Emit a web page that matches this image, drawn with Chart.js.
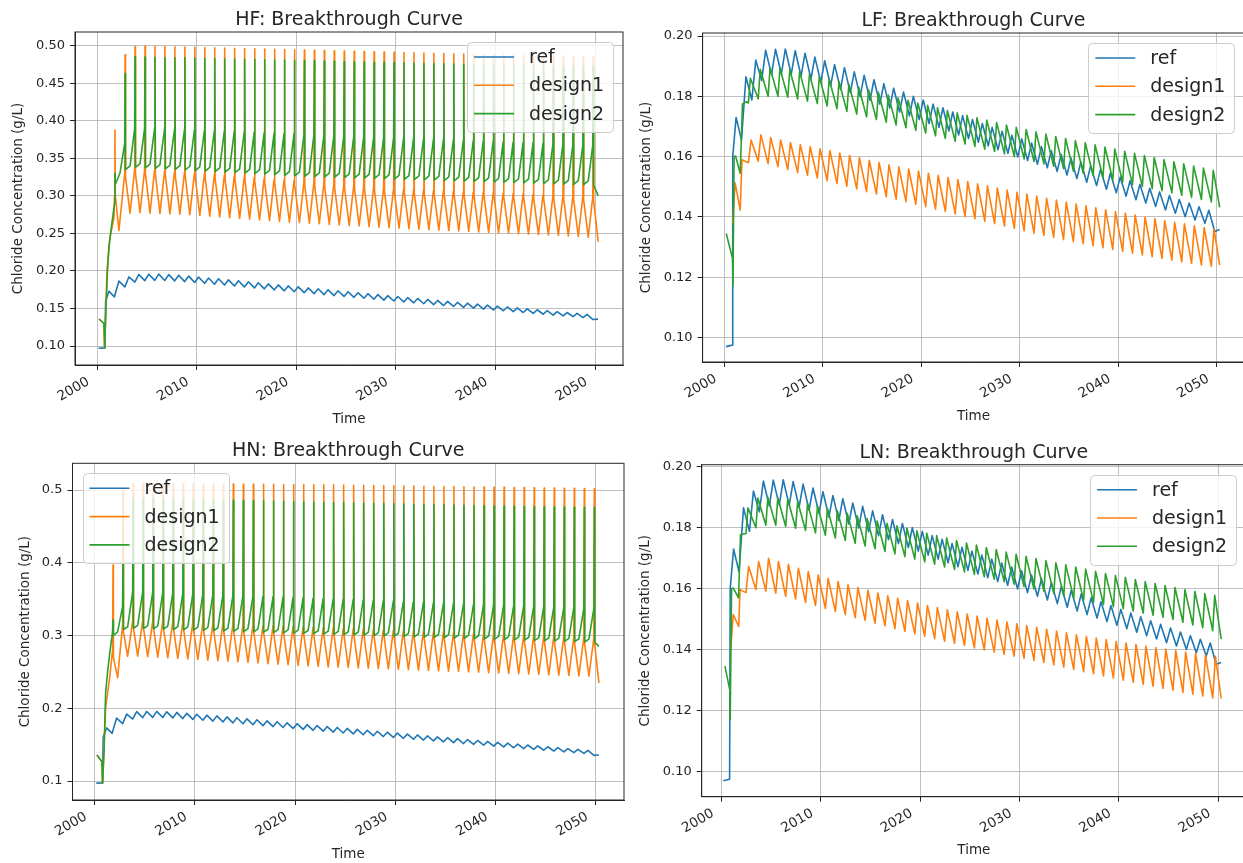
<!DOCTYPE html>
<html><head><meta charset="utf-8">
<script src="https://cdn.jsdelivr.net/npm/chart.js@4.4.0/dist/chart.umd.min.js"></script>
<style>
html,body{margin:0;padding:0;background:#fff;width:1243px;height:863px;overflow:hidden;position:relative;}
canvas{position:absolute;}
</style></head><body>
<canvas id="cHF"></canvas><canvas id="cLF"></canvas><canvas id="cHN"></canvas><canvas id="cLN"></canvas>
<script>
// ---------------- text / ticks ----------------
const seriesNames = ['ref', 'design1', 'design2'];
const seriesColors = ['#1f77b4', '#ff7f0e', '#2ca02c'];
const xTitle = 'Time';
const yTitle = 'Chloride Concentration (g/L)';
const xTicks = [2000, 2010, 2020, 2030, 2040, 2050];
const xTickLabels = ['2000', '2010', '2020', '2030', '2040', '2050'];
const hfYTicks = [0.10, 0.15, 0.20, 0.25, 0.30, 0.35, 0.40, 0.45, 0.50];
const hfYTickLabels = ['0.10', '0.15', '0.20', '0.25', '0.30', '0.35', '0.40', '0.45', '0.50'];
const hnYTicks = [0.1, 0.2, 0.3, 0.4, 0.5];
const hnYTickLabels = ['0.1', '0.2', '0.3', '0.4', '0.5'];
const lowYTicks = [0.10, 0.12, 0.14, 0.16, 0.18, 0.20];
const lowYTickLabels = ['0.10', '0.12', '0.14', '0.16', '0.18', '0.20'];

// ---------------- data ----------------
const cycleYears = [2002,2003,2004,2005,2006,2007,2008,2009,2010,2011,2012,2013,2014,2015,2016,2017,2018,2019,2020,2021,2022,2023,2024,2025,2026,2027,2028,2029,2030,2031,2032,2033,2034,2035,2036,2037,2038,2039,2040,2041,2042,2043,2044,2045,2046,2047,2048,2049];

// ref (same run in all four panels): peaks at year+0.20, troughs at year+0.80
const refPhase = [0.20, 0.80];
const refHead = [[2000.17,0.0970],[2000.80,0.0975],[2000.86,0.1600],[2001.20,0.1730],[2001.75,0.1655]];
const refPeaks = [0.1865,0.1920,0.1953,0.1956,0.1957,0.1951,0.1943,0.1930,0.1918,0.1905,
0.1895,0.1881,0.1870,0.1855,0.1842,0.1827,0.1814,0.1800,0.1788,0.1774,
0.1762,0.1748,0.1736,0.1723,0.1710,0.1697,0.1684,0.1671,0.1659,0.1645,
0.1633,0.1620,0.1607,0.1595,0.1582,0.1570,0.1557,0.1545,0.1532,0.1520,
0.1508,0.1495,0.1483,0.1471,0.1458,0.1446,0.1434,0.1422];
const refTroughs = [0.1788,0.1852,0.1871,0.1874,0.1873,0.1867,0.1858,0.1847,0.1835,0.1823,
0.1812,0.1799,0.1787,0.1774,0.1761,0.1748,0.1735,0.1723,0.1710,0.1697,
0.1685,0.1672,0.1660,0.1648,0.1636,0.1623,0.1611,0.1599,0.1587,0.1575,
0.1563,0.1551,0.1539,0.1527,0.1515,0.1504,0.1492,0.1480,0.1469,0.1457,
0.1446,0.1435,0.1423,0.1412,0.1401,0.1390,0.1379,0.1352];
const refTail = [[2050.30,0.1358]];

// HF: pre-spike, spike, post-spike, mid-cycle level
const hfPhase = [0.78, 0.82, 0.86, 1.32];
const hfD1Head = [[2000.20,0.1360],[2000.70,0.1300],[2000.76,0.0970],[2001.00,0.2000],[2001.30,0.2450],[2001.70,0.2700],[2001.76,0.3000],[2001.80,0.3877],[2001.84,0.3000],[2002.20,0.2540]];
const hfD1Pre = [0.3300,0.3350,0.3350,0.3340,0.3330,0.3320,0.3310,0.3300,0.3290,0.3280,
0.3270,0.3260,0.3250,0.3240,0.3230,0.3220,0.3210,0.3200,0.3190,0.3180,
0.3170,0.3160,0.3150,0.3140,0.3130,0.3120,0.3110,0.3100,0.3090,0.3080,
0.3075,0.3070,0.3065,0.3060,0.3055,0.3050,0.3045,0.3040,0.3035,0.3030,
0.3025,0.3020,0.3015,0.3010,0.3005,0.3000,0.2995,0.2990];
const hfD1Peak = [0.4880,0.4987,0.4992,0.4990,0.4988,0.4985,0.4982,0.4978,0.4975,0.4972,
0.4968,0.4965,0.4962,0.4958,0.4955,0.4952,0.4948,0.4945,0.4942,0.4938,
0.4935,0.4932,0.4928,0.4925,0.4922,0.4918,0.4915,0.4912,0.4908,0.4905,
0.4902,0.4898,0.4895,0.4892,0.4888,0.4885,0.4882,0.4878,0.4875,0.4872,
0.4870,0.4868,0.4866,0.4864,0.4862,0.4860,0.4858,0.4856];
const hfD1Post = [0.3250,0.3300,0.3300,0.3290,0.3280,0.3270,0.3260,0.3250,0.3240,0.3230,
0.3220,0.3210,0.3200,0.3190,0.3180,0.3170,0.3160,0.3150,0.3140,0.3130,
0.3120,0.3110,0.3100,0.3090,0.3080,0.3070,0.3060,0.3050,0.3040,0.3030,
0.3025,0.3020,0.3015,0.3010,0.3005,0.3000,0.2995,0.2990,0.2985,0.2980,
0.2975,0.2970,0.2965,0.2960,0.2955,0.2950,0.2945,0.2940];
const hfD1Trough = [0.2770,0.2775,0.2770,0.2765,0.2760,0.2755,0.2748,0.2740,0.2730,0.2720,
0.2710,0.2700,0.2690,0.2680,0.2670,0.2660,0.2650,0.2642,0.2635,0.2628,
0.2620,0.2612,0.2605,0.2598,0.2590,0.2583,0.2576,0.2569,0.2562,0.2556,
0.2550,0.2544,0.2538,0.2532,0.2526,0.2520,0.2514,0.2508,0.2502,0.2496,
0.2490,0.2484,0.2478,0.2472,0.2466,0.2460,0.2450,0.2390];

const hfD2Head = [[2000.20,0.1360],[2000.70,0.1300],[2000.76,0.0970],[2000.90,0.1500],[2001.05,0.2000],[2001.20,0.2320],[2001.45,0.2590],[2001.76,0.2900],[2001.80,0.3300],[2001.84,0.3150],[2002.30,0.3300]];
const hfD2Pre = [0.3700,0.3900,0.3900,0.3895,0.3890,0.3885,0.3880,0.3875,0.3870,0.3865,
0.3860,0.3855,0.3850,0.3845,0.3840,0.3835,0.3830,0.3825,0.3820,0.3815,
0.3810,0.3805,0.3800,0.3795,0.3790,0.3785,0.3780,0.3775,0.3770,0.3765,
0.3760,0.3755,0.3750,0.3745,0.3740,0.3735,0.3730,0.3725,0.3720,0.3715,
0.3710,0.3705,0.3700,0.3695,0.3690,0.3685,0.3680,0.3675];
const hfD2Peak = [0.4630,0.4853,0.4850,0.4846,0.4843,0.4840,0.4837,0.4834,0.4831,0.4828,
0.4825,0.4822,0.4819,0.4816,0.4813,0.4810,0.4807,0.4804,0.4801,0.4798,
0.4795,0.4792,0.4789,0.4786,0.4783,0.4780,0.4777,0.4774,0.4771,0.4768,
0.4765,0.4762,0.4759,0.4756,0.4753,0.4750,0.4747,0.4744,0.4741,0.4738,
0.4736,0.4734,0.4732,0.4730,0.4728,0.4726,0.4724,0.4722];
const hfD2Post = [0.3350,0.3380,0.3372,0.3365,0.3358,0.3351,0.3344,0.3337,0.3330,0.3323,
0.3316,0.3309,0.3302,0.3295,0.3288,0.3281,0.3274,0.3267,0.3260,0.3256,
0.3252,0.3248,0.3244,0.3240,0.3236,0.3232,0.3228,0.3224,0.3220,0.3216,
0.3212,0.3208,0.3204,0.3200,0.3196,0.3192,0.3188,0.3184,0.3180,0.3176,
0.3172,0.3168,0.3164,0.3160,0.3156,0.3152,0.3148,0.3144];
const hfD2Mid = [0.3400,0.3430,0.3422,0.3415,0.3408,0.3401,0.3394,0.3387,0.3380,0.3373,
0.3366,0.3359,0.3352,0.3345,0.3338,0.3331,0.3324,0.3317,0.3310,0.3306,
0.3302,0.3298,0.3294,0.3290,0.3286,0.3282,0.3278,0.3274,0.3270,0.3266,
0.3262,0.3258,0.3254,0.3250,0.3246,0.3242,0.3238,0.3234,0.3230,0.3226,
0.3222,0.3218,0.3214,0.3210,0.3206,0.3202,0.3198,0.3000];

// HN
const hnPhase = [0.80, 0.84, 0.88, 1.30];
const hnD1Head = [[2000.24,0.1357],[2000.74,0.1265],[2000.80,0.0970],[2001.10,0.2000],[2001.50,0.2416],[2001.80,0.2800],[2001.84,0.3970],[2001.88,0.2700],[2002.30,0.2420]];
const hnD1Pre = [0.3150,0.3200,0.3200,0.3195,0.3190,0.3185,0.3180,0.3175,0.3170,0.3165,
0.3160,0.3155,0.3150,0.3145,0.3140,0.3135,0.3130,0.3125,0.3120,0.3115,
0.3110,0.3105,0.3100,0.3095,0.3090,0.3085,0.3080,0.3075,0.3070,0.3065,
0.3060,0.3055,0.3050,0.3045,0.3040,0.3035,0.3030,0.3025,0.3020,0.3015,
0.3010,0.3005,0.3000,0.2995,0.2990,0.2985,0.2980,0.2975];
const hnD1Peak = [0.5000,0.5090,0.5090,0.5089,0.5088,0.5087,0.5086,0.5085,0.5084,0.5083,
0.5082,0.5081,0.5080,0.5079,0.5078,0.5077,0.5076,0.5075,0.5074,0.5073,
0.5072,0.5070,0.5068,0.5066,0.5064,0.5062,0.5060,0.5058,0.5056,0.5054,
0.5052,0.5050,0.5048,0.5046,0.5044,0.5042,0.5040,0.5038,0.5036,0.5034,
0.5032,0.5030,0.5028,0.5026,0.5024,0.5022,0.5020,0.5018];
const hnD1Post = [0.3050,0.3100,0.3100,0.3095,0.3090,0.3085,0.3080,0.3075,0.3070,0.3065,
0.3060,0.3055,0.3050,0.3045,0.3040,0.3035,0.3030,0.3025,0.3020,0.3015,
0.3010,0.3005,0.3000,0.2995,0.2990,0.2985,0.2980,0.2975,0.2970,0.2965,
0.2960,0.2955,0.2950,0.2945,0.2940,0.2935,0.2930,0.2925,0.2920,0.2915,
0.2910,0.2905,0.2900,0.2895,0.2890,0.2885,0.2880,0.2875];
const hnD1Trough = [0.2715,0.2715,0.2710,0.2702,0.2694,0.2686,0.2678,0.2670,0.2662,0.2654,
0.2646,0.2638,0.2630,0.2622,0.2614,0.2606,0.2598,0.2590,0.2582,0.2575,
0.2570,0.2565,0.2560,0.2555,0.2550,0.2545,0.2540,0.2535,0.2530,0.2525,
0.2520,0.2515,0.2510,0.2505,0.2500,0.2495,0.2490,0.2485,0.2480,0.2475,
0.2470,0.2465,0.2460,0.2455,0.2450,0.2445,0.2440,0.2350];
const hnD2Head = [[2000.24,0.1357],[2000.74,0.1265],[2000.80,0.0970],[2000.95,0.1420],[2001.10,0.2210],[2001.30,0.2500],[2001.55,0.2800],[2001.80,0.3050],[2001.84,0.3213],[2001.88,0.3000],[2002.30,0.3050]];
const hnD2Pre = [0.3400,0.3600,0.3600,0.3595,0.3590,0.3585,0.3580,0.3575,0.3570,0.3565,
0.3560,0.3555,0.3550,0.3545,0.3540,0.3535,0.3530,0.3525,0.3520,0.3515,
0.3510,0.3505,0.3500,0.3495,0.3490,0.3485,0.3480,0.3475,0.3470,0.3465,
0.3460,0.3455,0.3450,0.3445,0.3440,0.3435,0.3430,0.3425,0.3420,0.3415,
0.3410,0.3405,0.3400,0.3395,0.3390,0.3385,0.3380,0.3375];
const hnD2Peak = [0.4000,0.4886,0.4884,0.4882,0.4880,0.4877,0.4874,0.4871,0.4868,0.4865,
0.4862,0.4859,0.4856,0.4853,0.4850,0.4847,0.4844,0.4841,0.4838,0.4835,
0.4832,0.4829,0.4826,0.4823,0.4820,0.4817,0.4814,0.4811,0.4808,0.4805,
0.4802,0.4799,0.4796,0.4793,0.4790,0.4787,0.4784,0.4781,0.4778,0.4775,
0.4772,0.4770,0.4768,0.4766,0.4764,0.4762,0.4760,0.4758];
const hnD2Post = [0.3080,0.3100,0.3096,0.3092,0.3088,0.3083,0.3079,0.3075,0.3071,0.3067,
0.3062,0.3058,0.3054,0.3050,0.3046,0.3041,0.3037,0.3033,0.3029,0.3025,
0.3020,0.3016,0.3012,0.3008,0.3004,0.2999,0.2995,0.2991,0.2987,0.2983,
0.2978,0.2974,0.2970,0.2966,0.2962,0.2957,0.2953,0.2949,0.2945,0.2941,
0.2936,0.2932,0.2928,0.2924,0.2920,0.2915,0.2911,0.2907];
const hnD2Mid = [0.3120,0.3140,0.3136,0.3132,0.3128,0.3123,0.3119,0.3115,0.3111,0.3107,
0.3102,0.3098,0.3094,0.3090,0.3086,0.3081,0.3077,0.3073,0.3069,0.3065,
0.3060,0.3056,0.3052,0.3048,0.3044,0.3039,0.3035,0.3031,0.3027,0.3023,
0.3018,0.3014,0.3010,0.3006,0.3002,0.2997,0.2993,0.2989,0.2985,0.2981,
0.2976,0.2972,0.2968,0.2964,0.2960,0.2955,0.2951,0.2850];

// LF: trough then peak each year
const lowD1Phase = [0.45, 0.72];
const lowD2Phase = [0.45, 0.65];
const lfD1Head = [[2000.86,0.1380],[2001.10,0.1513],[2001.62,0.1423],[2001.80,0.1590]];
const lfD1Troughs = [0.1580,0.1585,0.1577,0.1567,0.1557,0.1547,0.1538,0.1529,0.1520,0.1511,
0.1502,0.1493,0.1484,0.1476,0.1467,0.1459,0.1451,0.1442,0.1434,0.1426,
0.1418,0.1410,0.1402,0.1394,0.1386,0.1378,0.1370,0.1362,0.1354,0.1346,
0.1339,0.1332,0.1325,0.1318,0.1311,0.1305,0.1298,0.1292,0.1286,0.1280,
0.1274,0.1268,0.1262,0.1257,0.1251,0.1246,0.1241,0.1236];
const lfD1Peaks = [0.1655,0.1672,0.1663,0.1655,0.1647,0.1640,0.1633,0.1626,0.1620,0.1612,
0.1604,0.1596,0.1588,0.1580,0.1573,0.1566,0.1559,0.1552,0.1545,0.1538,
0.1531,0.1524,0.1517,0.1510,0.1503,0.1496,0.1489,0.1482,0.1476,0.1469,
0.1462,0.1456,0.1449,0.1443,0.1437,0.1430,0.1424,0.1418,0.1412,0.1406,
0.1400,0.1394,0.1388,0.1382,0.1377,0.1371,0.1365,0.1360];
const lfD1Tail = [[2050.30,0.1240]];
const lfD2Head = [[2000.20,0.1345],[2000.84,0.1262],[2000.88,0.1170],[2001.00,0.1600],[2001.15,0.1602],[2001.62,0.1545],[2001.85,0.1775],[2002.25,0.1782]];
const lfD2Troughs = [0.1778,0.1792,0.1800,0.1800,0.1797,0.1791,0.1784,0.1776,0.1768,0.1759,
0.1750,0.1741,0.1732,0.1723,0.1714,0.1705,0.1696,0.1687,0.1678,0.1669,
0.1660,0.1651,0.1642,0.1634,0.1625,0.1617,0.1609,0.1600,0.1592,0.1584,
0.1576,0.1568,0.1560,0.1552,0.1545,0.1537,0.1530,0.1522,0.1515,0.1508,
0.1501,0.1494,0.1487,0.1480,0.1472,0.1465,0.1458,0.1450];
const lfD2Peaks = [0.1860,0.1890,0.1895,0.1893,0.1888,0.1881,0.1873,0.1865,0.1857,0.1849,
0.1840,0.1831,0.1822,0.1813,0.1804,0.1795,0.1787,0.1778,0.1770,0.1762,
0.1753,0.1745,0.1737,0.1729,0.1721,0.1713,0.1705,0.1697,0.1690,0.1682,
0.1675,0.1667,0.1660,0.1653,0.1646,0.1639,0.1632,0.1625,0.1618,0.1611,
0.1604,0.1597,0.1590,0.1583,0.1576,0.1569,0.1562,0.1555];
const lfD2Tail = [[2050.30,0.1432]];

// LN
const lnD1Head = [[2000.90,0.1400],[2001.17,0.1515],[2001.72,0.1476],[2001.85,0.1597]];
const lnD1Troughs = [0.1587,0.1597,0.1592,0.1585,0.1575,0.1566,0.1555,0.1545,0.1535,0.1525,
0.1515,0.1505,0.1496,0.1487,0.1478,0.1469,0.1460,0.1452,0.1444,0.1436,
0.1428,0.1421,0.1414,0.1406,0.1399,0.1392,0.1385,0.1379,0.1372,0.1365,
0.1358,0.1350,0.1343,0.1335,0.1328,0.1321,0.1314,0.1307,0.1300,0.1293,
0.1286,0.1280,0.1273,0.1267,0.1260,0.1254,0.1248,0.1242];
const lnD1Peaks = [0.1673,0.1689,0.1700,0.1689,0.1680,0.1667,0.1656,0.1645,0.1634,0.1623,
0.1613,0.1604,0.1595,0.1586,0.1577,0.1569,0.1561,0.1553,0.1545,0.1538,
0.1531,0.1524,0.1517,0.1510,0.1503,0.1497,0.1491,0.1485,0.1479,0.1473,
0.1467,0.1461,0.1455,0.1449,0.1444,0.1438,0.1433,0.1427,0.1422,0.1417,
0.1412,0.1407,0.1402,0.1397,0.1392,0.1387,0.1382,0.1378];
const lnD1Tail = [[2050.30,0.1240]];
const lnD2Head = [[2000.33,0.1346],[2000.84,0.1264],[2000.86,0.1170],[2001.00,0.1600],[2001.17,0.1602],[2001.70,0.1570],[2001.90,0.1777],[2002.25,0.1780]];
const lnD2Troughs = [0.1780,0.1800,0.1808,0.1808,0.1804,0.1798,0.1791,0.1783,0.1775,0.1766,
0.1758,0.1749,0.1740,0.1731,0.1722,0.1714,0.1705,0.1697,0.1688,0.1680,
0.1671,0.1663,0.1655,0.1647,0.1639,0.1631,0.1623,0.1615,0.1607,0.1599,
0.1592,0.1584,0.1577,0.1569,0.1562,0.1555,0.1548,0.1541,0.1534,0.1527,
0.1520,0.1513,0.1506,0.1499,0.1490,0.1481,0.1472,0.1462];
const lnD2Peaks = [0.1865,0.1897,0.1900,0.1898,0.1893,0.1886,0.1879,0.1871,0.1863,0.1855,
0.1847,0.1839,0.1830,0.1822,0.1814,0.1806,0.1798,0.1790,0.1782,0.1774,
0.1766,0.1758,0.1750,0.1743,0.1735,0.1728,0.1720,0.1713,0.1706,0.1699,
0.1692,0.1685,0.1678,0.1671,0.1664,0.1657,0.1650,0.1643,0.1637,0.1630,
0.1623,0.1617,0.1610,0.1604,0.1597,0.1591,0.1584,0.1578];
const lnD2Tail = [[2050.30,0.1435]];

// ---------------- build point tables ----------------
function buildSeries(head, years, phases, cols, tail) {
  const pts = head.map(p => ({x: p[0], y: p[1]}));
  years.forEach((yr, i) => {
    phases.forEach((ph, j) => { pts.push({x: yr + ph, y: cols[j][i]}); });
  });
  (tail || []).forEach(p => pts.push({x: p[0], y: p[1]}));
  return pts;
}
const refData = buildSeries(refHead, cycleYears, refPhase, [refPeaks, refTroughs], refTail);
const hfD1 = buildSeries(hfD1Head, cycleYears, hfPhase, [hfD1Pre, hfD1Peak, hfD1Post, hfD1Trough], []);
const hfD2 = buildSeries(hfD2Head, cycleYears, hfPhase, [hfD2Pre, hfD2Peak, hfD2Post, hfD2Mid], []);
const hnD1 = buildSeries(hnD1Head, cycleYears, hnPhase, [hnD1Pre, hnD1Peak, hnD1Post, hnD1Trough], []);
const hnD2 = buildSeries(hnD2Head, cycleYears, hnPhase, [hnD2Pre, hnD2Peak, hnD2Post, hnD2Mid], []);
const lfD1 = buildSeries(lfD1Head, cycleYears, lowD1Phase, [lfD1Troughs, lfD1Peaks], lfD1Tail);
const lfD2 = buildSeries(lfD2Head, cycleYears, lowD2Phase, [lfD2Troughs, lfD2Peaks], lfD2Tail);
const lnD1 = buildSeries(lnD1Head, cycleYears, lowD1Phase, [lnD1Troughs, lnD1Peaks], lnD1Tail);
const lnD2 = buildSeries(lnD2Head, cycleYears, lowD2Phase, [lnD2Troughs, lnD2Peaks], lnD2Tail);

// ---------------- layout ----------------
const panels = [
  {id:'cHF', title:'HF: Breakthrough Curve', box:[0,0,631,431], area:[75,32,623,365], xr:[1997.79,2052.81], yr:[0.0747,0.5182],
   yt:hfYTicks, yl:hfYTickLabels, yGap:57, side:'right', data:[refData, hfD1, hfD2]},
  {id:'cLF', title:'LF: Breakthrough Curve', box:[631,0,616,431], area:[71.6,33,613.3,362], xr:[1997.80,2052.80], yr:[0.0919,0.2010],
   yt:lowYTicks, yl:lowYTickLabels, yGap:56, side:'right', data:[refData, lfD1, lfD2]},
  {id:'cHN', title:'HN: Breakthrough Curve', box:[0,431,631,432], area:[72.5,32.3,624,369], xr:[1997.80,2052.80], yr:[0.0739,0.5367],
   yt:hnYTicks, yl:hnYTickLabels, yGap:47.5, side:'left', data:[refData, hnD1, hnD2]},
  {id:'cLN', title:'LN: Breakthrough Curve', box:[631,431,616,432], area:[70.7,33.7,615,365.7], xr:[1997.99,2052.80], yr:[0.0918,0.20065],
   yt:lowYTicks, yl:lowYTickLabels, yGap:56.7, side:'right', data:[refData, lnD1, lnD2]}
];

const TXT = '#262626';
const FONT = "'DejaVu Sans', sans-serif";

function roundRectPath(ctx, x, y, w, h, r) {
  ctx.beginPath();
  ctx.moveTo(x + r, y);
  ctx.lineTo(x + w - r, y); ctx.quadraticCurveTo(x + w, y, x + w, y + r);
  ctx.lineTo(x + w, y + h - r); ctx.quadraticCurveTo(x + w, y + h, x + w - r, y + h);
  ctx.lineTo(x + r, y + h); ctx.quadraticCurveTo(x, y + h, x, y + h - r);
  ctx.lineTo(x, y + r); ctx.quadraticCurveTo(x, y, x + r, y);
  ctx.closePath();
}

const mplDecor = {
  id: 'mplDecor',
  afterDatasetsDraw(chart, args, o) {
    const ctx = chart.ctx, a = chart.chartArea;
    const w = 146, h = 90;
    const x0 = o.side === 'left' ? a.left + 10 : a.right - 10 - w;
    const y0 = a.top + 10;
    ctx.save();
    roundRectPath(ctx, Math.round(x0) + 0.5, Math.round(y0) + 0.5, w, h, 4);
    ctx.fillStyle = 'rgba(255,255,255,0.8)';
    ctx.fill();
    ctx.strokeStyle = '#cccccc'; ctx.lineWidth = 1; ctx.stroke();
    chart.data.datasets.forEach((ds, i) => {
      const y = y0 + 15 + i * 28.3;
      ctx.beginPath(); ctx.moveTo(x0 + 7, y); ctx.lineTo(x0 + 47, y);
      ctx.strokeStyle = ds.borderColor; ctx.lineWidth = 1.6; ctx.stroke();
      ctx.fillStyle = TXT; ctx.font = '19px ' + FONT; ctx.textBaseline = 'middle'; ctx.textAlign = 'left';
      ctx.fillText(ds.label, x0 + 62, y + 1);
    });
    ctx.restore();
  },
  afterDraw(chart, args, o) {
    const ctx = chart.ctx, a = chart.chartArea;
    ctx.save();
    ctx.strokeStyle = TXT; ctx.lineWidth = 1;
    ctx.strokeRect(a.left, a.top, a.right - a.left, a.bottom - a.top);
    ctx.fillStyle = TXT; ctx.textAlign = 'center';
    ctx.font = '19px ' + FONT; ctx.textBaseline = 'alphabetic';
    ctx.fillText(o.title, (a.left + a.right) / 2, a.top - 7);
    // x tick labels, rotated 30 degrees, right end near the tick
    const xs = chart.scales.x;
    ctx.font = '13.5px ' + FONT; ctx.textAlign = 'right'; ctx.textBaseline = 'top';
    xTicks.forEach((v, i) => {
      const px = xs.getPixelForValue(v);
      ctx.save();
      ctx.translate(px - 12, a.bottom + 10);
      ctx.rotate(-Math.PI / 6);
      ctx.fillText(xTickLabels[i], 0, 0);
      ctx.restore();
    });
    ctx.textAlign = 'center';
    ctx.font = '13.5px ' + FONT; ctx.textBaseline = 'middle';
    ctx.fillText(xTitle, (a.left + a.right) / 2, a.bottom + 54);
    ctx.translate(a.left - o.yGap, (a.top + a.bottom) / 2);
    ctx.rotate(-Math.PI / 2);
    ctx.fillText(yTitle, 0, 0);
    ctx.restore();
  }
};

panels.forEach(p => {
  const cv = document.getElementById(p.id);
  const [bl, bt, bw, bh] = p.box;
  const [al, at, ar, ab] = p.area;
  cv.width = bw; cv.height = bh;
  cv.style.left = bl + 'px'; cv.style.top = bt + 'px';
  cv.style.width = bw + 'px'; cv.style.height = bh + 'px';
  new Chart(cv, {
    type: 'line',
    data: {
      datasets: p.data.map((d, i) => ({
        label: seriesNames[i], data: d, borderColor: seriesColors[i], backgroundColor: seriesColors[i],
        borderWidth: 1.6, pointRadius: 0, tension: 0, fill: false, borderJoinStyle: 'round',
        order: 2 - i
      }))
    },
    options: {
      responsive: false, animation: false, devicePixelRatio: 1,
      layout: { autoPadding: false, padding: { left: 0, top: at, right: bw - ar, bottom: 0 } },
      plugins: { legend: { display: false }, tooltip: { enabled: false }, title: { display: false },
        mplDecor: { title: p.title, yGap: p.yGap, side: p.side } },
      scales: {
        x: {
          type: 'linear', min: p.xr[0], max: p.xr[1],
          afterFit: s => { s.height = bh - ab; },
          afterBuildTicks: s => { s.ticks = xTicks.map(v => ({ value: v })); },
          ticks: { display: false, autoSkip: false },
          grid: { color: '#b0b0b0', lineWidth: 0.8, tickColor: TXT, tickLength: 5, tickWidth: 1, drawTicks: true },
          border: { display: true, color: TXT, width: 1 }
        },
        y: {
          type: 'linear', min: p.yr[0], max: p.yr[1],
          afterFit: s => { s.width = al; },
          afterBuildTicks: s => { s.ticks = p.yt.map(v => ({ value: v })); },
          ticks: { callback: (v, i) => p.yl[i], autoSkip: false, font: { size: 13, family: FONT }, color: TXT, padding: 5 },
          grid: { color: '#b0b0b0', lineWidth: 0.8, tickColor: TXT, tickLength: 5, tickWidth: 1 },
          border: { display: true, color: TXT, width: 1 }
        }
      }
    },
    plugins: [mplDecor]
  });
});
</script>
</body></html>
